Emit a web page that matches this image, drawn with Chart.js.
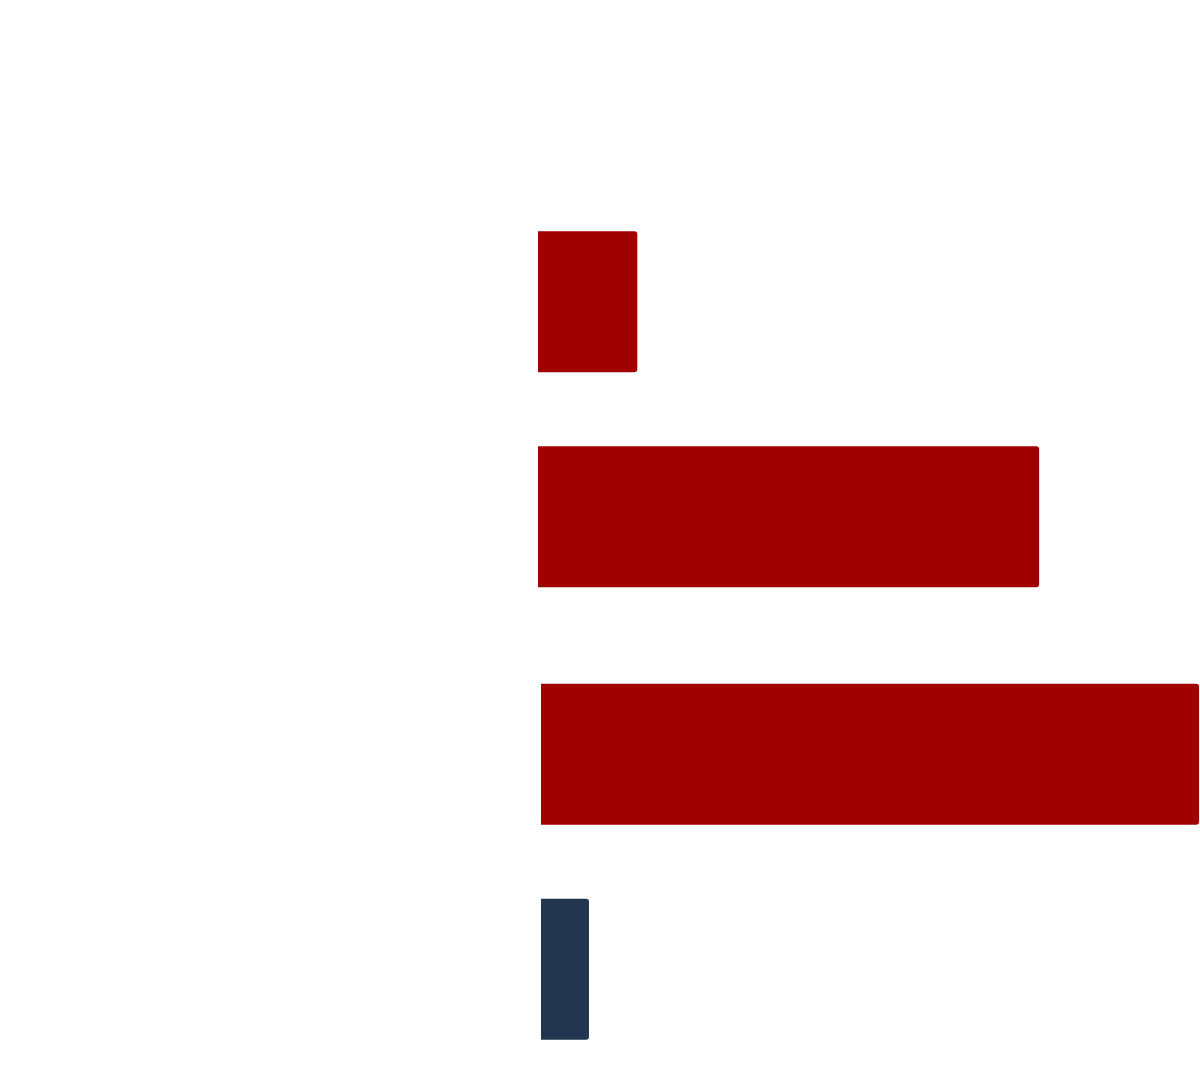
<!DOCTYPE html>
<html lang="en">
<head>
<meta charset="utf-8">
<title>Bars</title>
<script src="https://cdn.jsdelivr.net/npm/chart.js@4.4.1/dist/chart.umd.min.js"></script>
<style>
    html, body { margin: 0; padding: 0; background: #ffffff; overflow: hidden; }
    #wrap { width: 1200px; height: 1088px; position: relative; }
</style>
</head>
<body>
<div id="wrap"><canvas id="chart-0"></canvas></div>
<script>
    // two groups, two bars each (floating: [start, end])
    var categories = ['Group 1', 'Group 2'];
    var firstBars = [[0, 15], [0.45, 99.85]];
    var secondBars = [[0, 75.7], [0.45, 7.7]];
    var firstColors = ['#a00000', '#a00000'];
    var secondColors = ['#a00000', '#233650'];

    var chart = new Chart('chart-0', {
        type: 'bar',
        data: {
            labels: categories,
            datasets: [{
                label: 'first',
                data: firstBars,
                backgroundColor: firstColors,
                borderRadius: 3,
                borderSkipped: 'start'
            }, {
                label: 'second',
                data: secondBars,
                backgroundColor: secondColors,
                borderRadius: 3,
                borderSkipped: 'start'
            }]
        },
        options: {
            indexAxis: 'y',
            responsive: true,
            maintainAspectRatio: false,
            animation: false,
            categoryPercentage: 0.95,
            barPercentage: 0.656,
            layout: { padding: { left: 538, top: 183, right: 0, bottom: 0 } },
            plugins: {
                legend: { display: false },
                tooltip: { enabled: false }
            },
            scales: {
                x: { display: false, min: 0, max: 100 },
                y: { display: false }
            }
        }
    });
</script>
</body>
</html>
